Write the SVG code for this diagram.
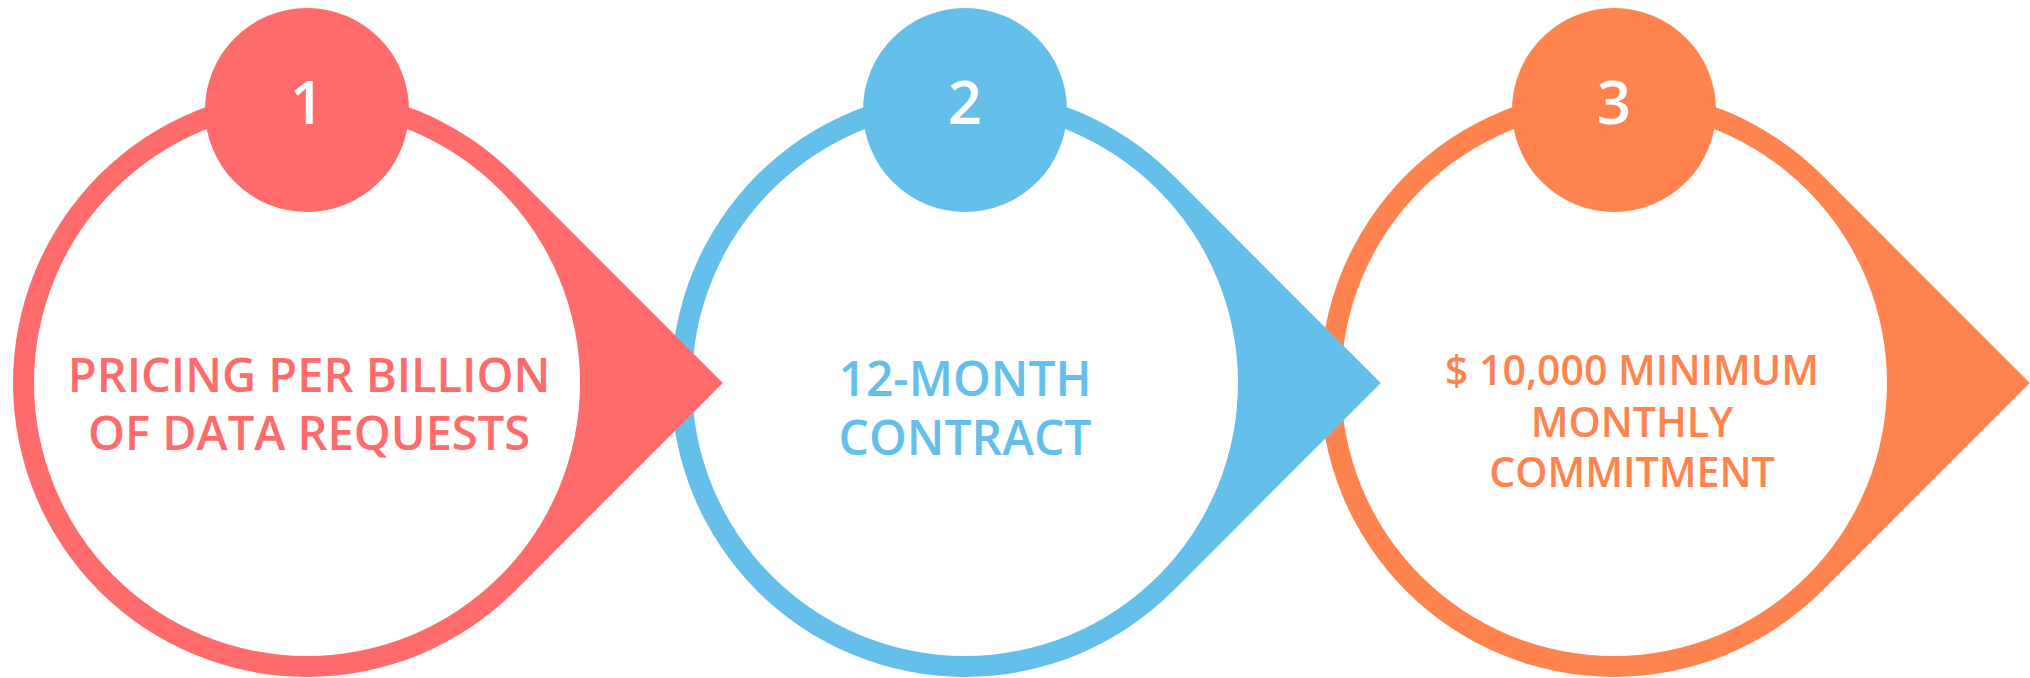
<svg xmlns="http://www.w3.org/2000/svg" width="2030" height="678" viewBox="0 0 2030 678">
<style>
  .num { font-family: "Open Sans", "Liberation Sans", sans-serif; font-weight: 600; font-size: 60px; fill: #ffffff; text-anchor: middle; }
  .lbl { font-family: "Open Sans", "Liberation Sans", sans-serif; font-weight: 600; text-anchor: middle; }
  .red { fill: #FF6A6A; }
  .blue { fill: #64BFEB; }
  .orange { fill: #FF834F; }
  .inner { fill: #ffffff; }
</style>
<defs>
  <path id="drop" d="M 207.9 -207.9 L 415.8 0 L 207.9 207.9 A 294 294 0 1 1 207.9 -207.9 Z"/>
</defs>
<rect width="2030" height="678" fill="#ffffff"/>
<g id="node3" transform="translate(1614,383)">
  <use href="#drop" class="orange"/>
  <circle r="273" class="inner"/>
  <circle cx="0" cy="-273" r="102" class="orange"/>
  <text class="num" x="0" y="-259">3</text>
  <text class="lbl orange" font-size="41" x="18" y="2">$ 10,000 MINIMUM</text>
  <text class="lbl orange" font-size="41" x="18" y="54">MONTHLY</text>
  <text class="lbl orange" font-size="41" x="18" y="104">COMMITMENT</text>
</g>
<g id="node2" transform="translate(965,383)">
  <use href="#drop" class="blue"/>
  <circle r="273" class="inner"/>
  <circle cx="0" cy="-273" r="102" class="blue"/>
  <text class="num" x="0" y="-259">2</text>
  <text class="lbl blue" font-size="48" x="0" y="13">12-MONTH</text>
  <text class="lbl blue" font-size="48" x="0" y="72">CONTRACT</text>
</g>
<g id="node1" transform="translate(307,383)">
  <use href="#drop" class="red"/>
  <circle r="273" class="inner"/>
  <circle cx="0" cy="-273" r="102" class="red"/>
  <text class="num" x="0" y="-259">1</text>
  <text class="lbl red" font-size="47" x="2" y="9">PRICING PER BILLION</text>
  <text class="lbl red" font-size="47" x="2" y="67">OF DATA REQUESTS</text>
</g>
<g id="connectors"/>
</svg>
